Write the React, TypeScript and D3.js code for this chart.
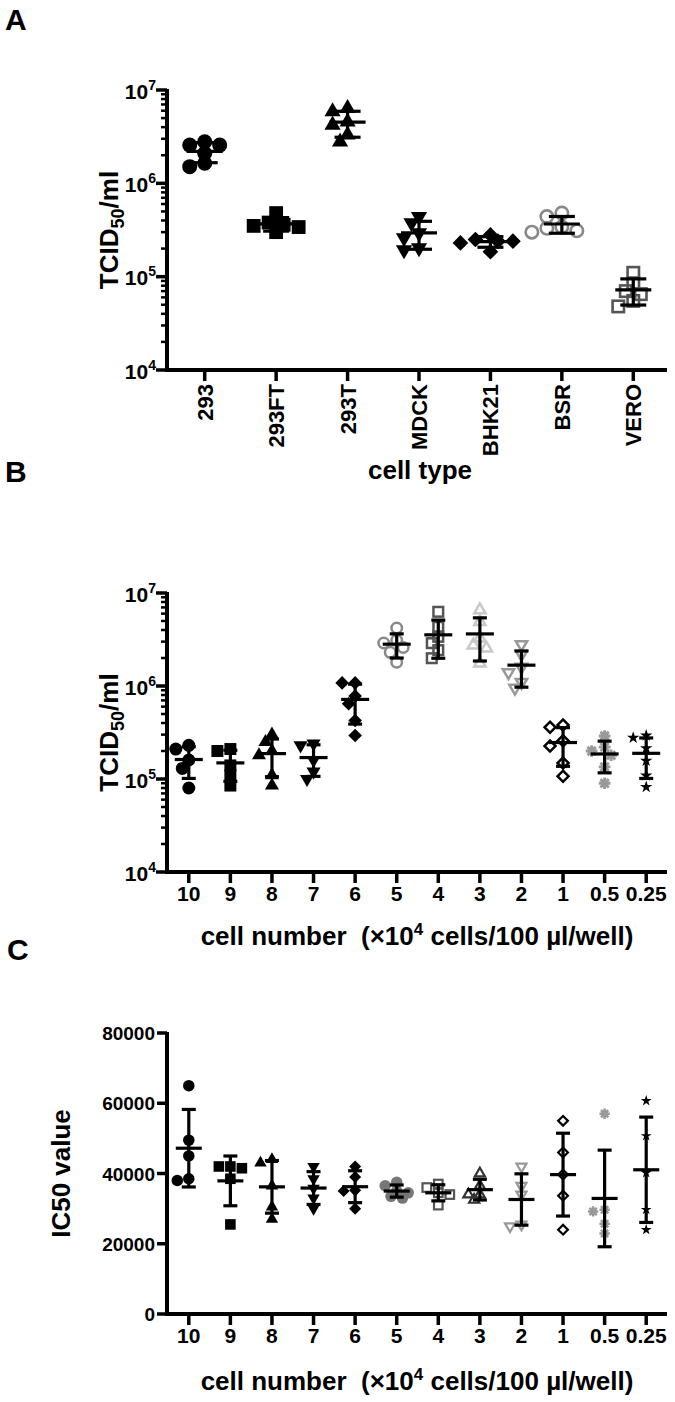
import React from 'react';
import * as d3 from 'd3';

// ---------- DATA ----------
const cellTypes = ['293', '293FT', '293T', 'MDCK', 'BHK21', 'BSR', 'VERO'];
const tcidByType: number[][] = [
  [2.79e6, 2.57e6, 2.57e6, 2.1e6, 1.64e6, 1.51e6],
  [4.8e5, 3.8e5, 3.6e5, 3.5e5, 3.4e5, 3.0e5],
  [6.37e6, 5.86e6, 4.57e6, 4.22e6, 3.3e6, 2.79e6],
  [4.4e5, 3.76e5, 2.94e5, 2.6e5, 2.03e5, 1.93e5],
  [2.8e5, 2.5e5, 2.4e5, 2.4e5, 2.3e5, 1.85e5],
  [4.8e5, 4.4e5, 3.4e5, 3.3e5, 3.1e5, 3.0e5],
  [1.1e5, 8.5e4, 7.0e4, 6.5e4, 5.5e4, 4.8e4],
];

const cellNumbers = ['10', '9', '8', '7', '6', '5', '4', '3', '2', '1', '0.5', '0.25'];
const tcidByNumber: number[][] = [
  [2.3e5, 2.1e5, 1.6e5, 1.3e5, 8e4],
  [2.1e5, 2.0e5, 1.4e5, 1.1e5, 8.5e4],
  [3.0e5, 2.5e5, 2.0e5, 1.8e5, 1.1e5, 8.5e4],
  [2.4e5, 2.3e5, 1.6e5, 1.2e5, 1.0e5],
  [1.08e6, 1.08e6, 7.8e5, 6.45e5, 4.25e5, 2.94e5],
  [4.2e6, 3.1e6, 2.9e6, 2.6e6, 2.3e6, 1.8e6],
  [6.28e6, 4.33e6, 3.38e6, 2.89e6, 2.43e6, 1.99e6],
  [6.56e6, 4.9e6, 3.27e6, 2.75e6, 2.55e6, 1.76e6],
  [2.8e6, 2.2e6, 1.6e6, 1.4e6, 1.1e6, 0.95e6],
  [3.8e5, 3.6e5, 2.58e5, 2.26e5, 1.49e5, 1.07e5],
  [2.9e5, 2.2e5, 2.0e5, 1.8e5, 1.35e5, 9e4],
  [2.93e5, 2.78e5, 2.14e5, 1.57e5, 1.09e5, 8.2e4],
];
const ic50ByNumber: number[][] = [
  [65000, 49500, 45000, 38500, 38000],
  [42000, 42000, 41500, 38500, 25500],
  [44000, 43000, 36500, 30500, 27000],
  [42000, 38500, 35800, 33000, 30000],
  [42000, 39000, 35200, 35000, 30000],
  [37500, 36500, 35000, 34500, 33500, 33000],
  [37000, 36000, 34500, 34000, 31000],
  [40000, 36500, 34000, 34000, 32500],
  [42000, 36500, 34000, 25500, 25000],
  [55000, 46000, 39700, 33700, 24000],
  [57000, 29700, 29200, 25700, 22900],
  [60700, 50700, 40200, 29700, 24000],
];
const icTicks = [0, 20000, 40000, 60000, 80000];

// ---------- STYLES ----------
type Shape = 'circle' | 'square' | 'triangle' | 'triangleDown' | 'diamond' | 'star' | 'asterisk';
interface MStyle { shape: Shape; color: string; open?: boolean }

const stylesA: MStyle[] = [
  { shape: 'circle', color: '#000' },
  { shape: 'square', color: '#000' },
  { shape: 'triangle', color: '#000' },
  { shape: 'triangleDown', color: '#000' },
  { shape: 'diamond', color: '#000' },
  { shape: 'circle', color: '#888', open: true },
  { shape: 'square', color: '#555', open: true },
];
const stylesB: MStyle[] = [
  { shape: 'circle', color: '#000' },
  { shape: 'square', color: '#000' },
  { shape: 'triangle', color: '#000' },
  { shape: 'triangleDown', color: '#000' },
  { shape: 'diamond', color: '#000' },
  { shape: 'circle', color: '#888', open: true },
  { shape: 'square', color: '#555', open: true },
  { shape: 'triangle', color: '#c8c8c8', open: true },
  { shape: 'triangleDown', color: '#999', open: true },
  { shape: 'diamond', color: '#000', open: true },
  { shape: 'asterisk', color: '#999' },
  { shape: 'star', color: '#000' },
];
const stylesC: MStyle[] = [
  { shape: 'circle', color: '#000' },
  { shape: 'square', color: '#000' },
  { shape: 'triangle', color: '#000' },
  { shape: 'triangleDown', color: '#000' },
  { shape: 'diamond', color: '#000' },
  { shape: 'circle', color: '#777' },
  { shape: 'square', color: '#555', open: true },
  { shape: 'triangle', color: '#333', open: true },
  { shape: 'triangleDown', color: '#999', open: true },
  { shape: 'diamond', color: '#000', open: true },
  { shape: 'asterisk', color: '#999' },
  { shape: 'star', color: '#000' },
];

const FONT = "'Liberation Sans', Arial, Helvetica, sans-serif";
const AX = 167;
const AX_END = 667;

function swarm(ys: number[], diam: number): number[] {
  const order = ys.map((_, i) => i).sort((a, b) => ys[a] - ys[b]);
  const placed: { x: number; y: number }[] = [];
  const off = new Array(ys.length).fill(0);
  const step = diam * 0.5;
  const thr = diam * 0.65;
  for (const i of order) {
    for (let k = 0; k < 60; k++) {
      const c = k === 0 ? 0 : (k % 2 === 1 ? -1 : 1) * Math.ceil(k / 2) * step;
      if (placed.every((p) => Math.hypot(p.x - c, p.y - ys[i]) >= thr)) {
        off[i] = c;
        placed.push({ x: c, y: ys[i] });
        break;
      }
    }
  }
  return off;
}

function Marker({ st, x, y, ms, sw }: { st: MStyle; x: number; y: number; ms: number; sw: number }) {
  const s = st.open ? ms - sw : ms;
  const fill = st.open ? 'none' : st.color;
  const stroke = st.open ? st.color : 'none';
  const common = { fill, stroke, strokeWidth: st.open ? sw : 0 };
  switch (st.shape) {
    case 'circle':
      return <circle cx={x} cy={y} r={s / 2} {...common} />;
    case 'square': {
      const a = s * 0.92;
      return <rect x={x - a / 2} y={y - a / 2} width={a} height={a} {...common} />;
    }
    case 'triangle':
    case 'triangleDown': {
      const a = s * 1.08;
      const p = d3.symbol(d3.symbolTriangle, (a * a * Math.sqrt(3)) / 4)() as string;
      return <path d={p} transform={`translate(${x},${y})${st.shape === 'triangleDown' ? ' rotate(180)' : ''}`} {...common} strokeLinejoin="miter" />;
    }
    case 'diamond': {
      const a = s * 0.74;
      return <rect x={-a / 2} y={-a / 2} width={a} height={a} transform={`translate(${x},${y}) rotate(45)`} {...common} />;
    }
    case 'star': {
      const R = ms * 0.5;
      const p = d3.symbol(d3.symbolStar, (R * R) / 0.8908130915292852)() as string;
      return <path d={p} transform={`translate(${x},${y})`} fill={st.color} />;
    }
    case 'asterisk': {
      const r = ms * 0.45;
      const segs = [0, 45, 90, 135].map((deg) => {
        const t = (deg * Math.PI) / 180;
        return `M${x - r * Math.cos(t)},${y - r * Math.sin(t)}L${x + r * Math.cos(t)},${y + r * Math.sin(t)}`;
      });
      return (
        <g>
          <path d={segs.join('')} stroke={st.color} strokeWidth={ms * 0.22} />
          <circle cx={x} cy={y} r={ms * 0.24} fill={st.color} />
        </g>
      );
    }
  }
  return null;
}

function stats(v: number[]) {
  const m = d3.mean(v) as number;
  const sd = d3.deviation(v) as number;
  return { m, sd };
}

function Scatter({ cats, groups, styles, x, y, ms, sw, meanW, capW }: any) {
  return (
    <g>
      {groups.map((vals: number[], gi: number) => {
        const cx = (x(cats[gi]) as number) + x.bandwidth() / 2;
        const ys = vals.map((v) => y(v));
        const off = swarm(ys, ms);
        return (
          <g key={'p' + gi}>
            {vals.map((v, i) => (
              <Marker key={i} st={styles[gi]} x={cx + off[i]} y={ys[i]} ms={ms} sw={sw} />
            ))}
          </g>
        );
      })}
      {groups.map((vals: number[], gi: number) => {
        const cx = (x(cats[gi]) as number) + x.bandwidth() / 2;
        const { m, sd } = stats(vals);
        const yt = y(m + sd), yb = y(m - sd), ym = y(m);
        return (
          <g key={'e' + gi} stroke="#000" strokeWidth={3.2}>
            <line x1={cx} x2={cx} y1={yt} y2={yb} />
            <line x1={cx - capW} x2={cx + capW} y1={yt} y2={yt} />
            <line x1={cx - capW} x2={cx + capW} y1={yb} y2={yb} />
            <line x1={cx - meanW} x2={cx + meanW} y1={ym} y2={ym} />
          </g>
        );
      })}
    </g>
  );
}

function LogYAxis({ y }: { y: d3.ScaleLogarithmic<number, number> }) {
  const [lo, hi] = y.domain();
  const e0 = Math.round(Math.log10(lo)), e1 = Math.round(Math.log10(hi));
  const majors: number[] = [];
  const minors: number[] = [];
  for (let e = e0; e <= e1; e++) {
    majors.push(e);
    if (e < e1) for (let m = 2; m <= 9; m++) minors.push(m * Math.pow(10, e));
  }
  return (
    <g>
      <line x1={AX} x2={AX} y1={y(hi) - 1} y2={y(lo) + 2} stroke="#000" strokeWidth={4} />
      {minors.map((v, i) => (
        <line key={'mi' + i} x1={AX - 6} x2={AX} y1={y(v)} y2={y(v)} stroke="#000" strokeWidth={2.5} />
      ))}
      {majors.map((e) => (
        <g key={'ma' + e}>
          <line x1={AX - 11} x2={AX} y1={y(Math.pow(10, e))} y2={y(Math.pow(10, e))} stroke="#000" strokeWidth={3.5} />
          <text x={156} y={y(Math.pow(10, e)) + 8.5} textAnchor="end" fontSize={21} fontWeight="bold" fontFamily={FONT}>
            10<tspan dy={-9} fontSize={14}>{e}</tspan>
          </text>
        </g>
      ))}
    </g>
  );
}

function XAxis({ x, cats, yb, rotated }: any) {
  return (
    <g>
      <line x1={AX - 2} x2={AX_END} y1={yb} y2={yb} stroke="#000" strokeWidth={4} />
      {cats.map((c: string) => {
        const cx = (x(c) as number) + x.bandwidth() / 2;
        return (
          <g key={c}>
            <line x1={cx} x2={cx} y1={yb} y2={yb + 11} stroke="#000" strokeWidth={3.5} />
            {rotated ? (
              <text transform={`translate(${cx + 8},${yb + 14}) rotate(-90)`} textAnchor="end" fontSize={22} fontWeight="bold" fontFamily={FONT}>
                {c}
              </text>
            ) : (
              <text x={cx} y={yb + 29} textAnchor="middle" fontSize={21} fontWeight="bold" fontFamily={FONT}>
                {c}
              </text>
            )}
          </g>
        );
      })}
    </g>
  );
}

function CellNumberTitle({ y }: { y: number }) {
  return (
    <text x={417} y={y} textAnchor="middle" fontSize={26} fontWeight="bold" fontFamily={FONT} xmlSpace="preserve">
      cell number  (×10<tspan dy={-10} fontSize={17}>4</tspan>
      <tspan dy={10}> cells/100 µl/well)</tspan>
    </text>
  );
}

function TcidTitle({ cy }: { cy: number }) {
  return (
    <text transform={`translate(118,${cy}) rotate(-90)`} textAnchor="middle" fontSize={26} fontWeight="bold" fontFamily={FONT}>
      TCID<tspan dy={6} fontSize={18}>50</tspan>
      <tspan dy={-6}>/ml</tspan>
    </text>
  );
}

export default function App() {
  const xA = d3.scaleBand<string>().domain(cellTypes).range([169, 669]);
  const xB = d3.scaleBand<string>().domain(cellNumbers).range([168, 667]);
  const yA = d3.scaleLog().domain([1e4, 1e7]).range([370, 90]);
  const yB = d3.scaleLog().domain([1e4, 1e7]).range([872, 593]);
  const yC = d3.scaleLinear().domain([0, 80000]).range([1314, 1033]);

  return (
    <svg width={675} height={1402} style={{ position: 'absolute', left: 0, top: 0, background: '#fff' }}>
      {/* Panel A */}
      <text x={5} y={30} fontSize={30} fontWeight="bold" fontFamily={FONT}>A</text>
      <LogYAxis y={yA} />
      <XAxis x={xA} cats={cellTypes} yb={370} rotated />
      <Scatter cats={cellTypes} groups={tcidByType} styles={stylesA} x={xA} y={yA} ms={15} sw={2.6} meanW={18} capW={13} />
      <TcidTitle cy={230} />
      <text x={420} y={479} textAnchor="middle" fontSize={26} fontWeight="bold" fontFamily={FONT}>cell type</text>

      {/* Panel B */}
      <text x={5} y={482} fontSize={30} fontWeight="bold" fontFamily={FONT}>B</text>
      <LogYAxis y={yB} />
      <XAxis x={xB} cats={cellNumbers} yb={872} />
      <Scatter cats={cellNumbers} groups={tcidByNumber} styles={stylesB} x={xB} y={yB} ms={13} sw={2.5} meanW={14} capW={7} />
      <TcidTitle cy={732.5} />
      <CellNumberTitle y={945} />

      {/* Panel C */}
      <text x={7} y={960} fontSize={30} fontWeight="bold" fontFamily={FONT}>C</text>
      <g>
        <line x1={AX} x2={AX} y1={yC(80000) - 1} y2={yC(0) + 2} stroke="#000" strokeWidth={4} />
        {icTicks.map((t) => (
          <g key={t}>
            <line x1={AX - 10} x2={AX} y1={yC(t)} y2={yC(t)} stroke="#000" strokeWidth={3.5} />
            <text x={155} y={yC(t) + 7} textAnchor="end" fontSize={19} fontWeight="bold" fontFamily={FONT}>{t}</text>
          </g>
        ))}
      </g>
      <XAxis x={xB} cats={cellNumbers} yb={1314} />
      <Scatter cats={cellNumbers} groups={ic50ByNumber} styles={stylesC} x={xB} y={yC} ms={11.5} sw={2.2} meanW={13} capW={7} />
      <text transform={`translate(70,1173.5) rotate(-90)`} textAnchor="middle" fontSize={26} fontWeight="bold" fontFamily={FONT}>IC50 value</text>
      <CellNumberTitle y={1390} />
    </svg>
  );
}
